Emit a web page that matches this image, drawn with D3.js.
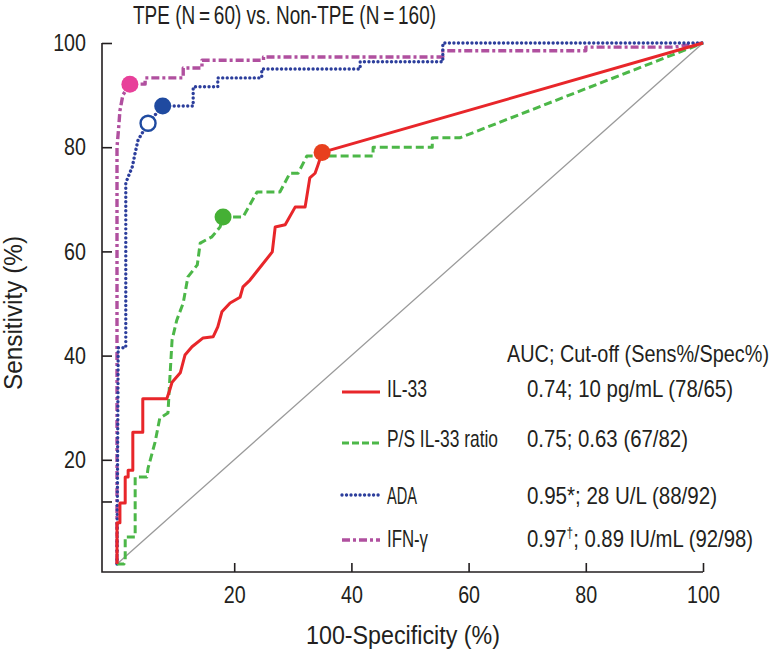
<!DOCTYPE html>
<html>
<head>
<meta charset="utf-8">
<script src="https://cdn.jsdelivr.net/npm/d3@7"></script>
<style>
body { margin: 0; background: #fff; }
text { font-family: "Liberation Sans", Arial, sans-serif; fill: #231f20; }
</style>
</head>
<body>
<svg width="771" height="655"></svg>
<script>
// ROC curves: [100-specificity %, sensitivity %]
var il33 = [[0,0],[0,7.9],[0.5,7.9],[0.5,11.7],[1.4,11.7],[1.4,16.7],[1.9,16.7],[1.9,18],[2.7,18],[2.7,25.3],
  [4.4,25.3],[4.4,31.7],[8.5,31.7],[9,33.4],[9.4,34.9],[10.8,36.7],[11.6,40.1],[12.8,41.7],[14.7,43.4],
  [16.4,43.6],[17.2,45.5],[17.9,48.4],[19.3,50.1],[21,51.2],[21.5,53.2],[22.7,54.5],[26.5,59.9],[27,64.7],
  [28.7,65.1],[30.4,68.5],[32.1,68.5],[32.9,74.1],[33.8,75],[34.3,76.6],[35,79],[100,100]];
var psRatio = [[0,0],[1.2,0],[1.4,0.5],[1.4,5.2],[3.1,5.2],[3.1,16.7],[5.1,16.7],[5.3,18.4],[6.5,23.4],
  [7.3,28],[8.7,29],[9,35.3],[9.4,43],[10.2,46.8],[11.3,50.1],[12.1,55.1],[13.7,57.4],[14.2,61.6],
  [16.2,62.8],[17.6,64.7],[18.1,66.6],[21.5,66.6],[23.9,71.4],[27.8,71.4],[29.5,75],[30.9,75],[32.4,78.3],
  [43.7,78.3],[43.7,80],[53.8,80],[53.8,81.8],[58.5,81.8],[100,100]];
var ada = [[0,0],[0.2,41.5],[1.5,41.5],[1.5,73.1],[1.9,74.3],[2.6,76.2],[3.1,78.9],[3.6,81.4],[4.3,82.7],
  [5.3,84.6],[7.8,87.9],[13,87.9],[13,91.6],[17.2,91.6],[17.2,93.3],[24.7,93.3],[24.7,95],[41.5,95],
  [41.5,96.4],[55.6,96.4],[55.6,100],[100,100]];
var ifng = [[0,0],[0,80],[0.3,84],[0.5,87],[1,90],[2.2,92.1],[4.8,92.1],[4.8,93.3],[11.3,93.3],[11.3,95.2],
  [14.5,95.2],[14.5,96.7],[25,96.7],[25,97.3],[55.6,97.3],[55.6,98.5],[80,98.5],[80,99.2],[95,99.2],[100,100]];

// cut-off points
var cutX = [35, 18.1, 7.8, 2.2];
var cutY = [79, 66.6, 87.9, 92.1];
var adaOpen = [5.3, 84.6];

var names = ["IL-33", "P/S IL-33 ratio", "ADA", "IFN-\u03b3"];
var aucText = ["0.74; 10 pg/mL (78/65)", "0.75; 0.63 (67/82)", "0.95*; 28 U/L (88/92)", "0.97"];
var xTicks = [20, 40, 60, 80, 100];
var yTicks = [12, 20, 40, 60, 80, 100];

var svg = d3.select("svg");

var x = d3.scaleLinear().domain([0, 100]).range([117, 703]);
var y = d3.scaleLinear().domain([0, 100]).range([564, 43]);

// the figure uses a condensed face; squeeze a regular one to the measured widths
function fit(sel, w) {
  sel.attr("textLength", w).attr("lengthAdjust", "spacingAndGlyphs");
}
function squeeze(sel, k) {
  sel.each(function() {
    var t = d3.select(this);
    fit(t, this.getComputedTextLength() * k);
  });
}

var styles = [
  {color: "#e8262a", width: 3, dash: null, cap: "butt", marker: "#e8401e"},
  {color: "#4cb748", width: 3, dash: "8,4", cap: "butt", marker: "#45b035"},
  {color: "#2c3e9c", width: 3.4, dash: "0.01,4.5", cap: "round", marker: "#1f4aa0"},
  {color: "#b0509f", width: 3.4, dash: "8,3,3,3", cap: "butt", marker: "#e8409a"}
];
var curves = [il33, psRatio, ada, ifng];

var line = d3.line().x(d => x(d[0])).y(d => y(d[1]));

// diagonal reference
svg.append("line")
  .attr("x1", x(0)).attr("y1", y(0))
  .attr("x2", x(100)).attr("y2", y(100))
  .attr("stroke", "#9a9a9a").attr("stroke-width", 1.3);

// axes
var yAxis = d3.axisLeft(y).tickValues(yTicks)
  .tickFormat(d => d == 12 ? "" : d)
  .tickSize(-10).tickPadding(16);
var gy = svg.append("g").attr("transform", "translate(102,0)").call(yAxis);
gy.select(".domain").remove();

var xAxis = d3.axisBottom(x).tickValues(xTicks).tickSize(-9).tickPadding(14);
var gx = svg.append("g").attr("transform", "translate(0,572)").call(xAxis);
gx.select(".domain").remove();

svg.append("path")
  .attr("d", "M102," + y(100) + "V572H" + x(100))
  .attr("fill", "none").attr("stroke", "#231f20").attr("stroke-width", 1.6);
svg.selectAll(".tick line").attr("stroke", "#231f20").attr("stroke-width", 1.6);
svg.selectAll(".tick text").style("font-size", "24px").attr("fill", "#231f20")
  .attr("font-family", null);
squeeze(svg.selectAll(".tick text").filter(function() { return this.textContent != ""; }), 0.82);

// curves, drawn back to front
[3, 2, 1, 0].forEach(function(i) {
  svg.append("path")
    .datum(curves[i])
    .attr("d", line)
    .attr("fill", "none")
    .attr("stroke", styles[i].color)
    .attr("stroke-width", styles[i].width)
    .attr("stroke-dasharray", styles[i].dash)
    .attr("stroke-linecap", styles[i].cap)
    .attr("stroke-linejoin", "round");
});

// markers
svg.append("circle")
  .attr("cx", x(adaOpen[0])).attr("cy", y(adaOpen[1])).attr("r", 7.5)
  .attr("fill", "#fff").attr("stroke", "#1f4aa0").attr("stroke-width", 2.4);
svg.selectAll(".cut")
  .data(cutX)
  .enter().append("circle")
  .attr("cx", d => x(d))
  .attr("cy", (d, i) => y(cutY[i]))
  .attr("r", 8.5)
  .attr("fill", (d, i) => styles[i].marker);

// title
svg.append("text").attr("x", 133).attr("y", 24)
  .style("font-size", "26px")
  .text("TPE (N\u2009=\u200960) vs. Non-TPE (N\u2009=\u2009160)")
  .call(fit, 303);

// axis titles
svg.append("text")
  .attr("transform", "translate(22,313) rotate(-90)")
  .attr("text-anchor", "middle")
  .style("font-size", "25px")
  .text("Sensitivity (%)")
  .call(fit, 154);
svg.append("text")
  .attr("x", 403).attr("y", 644)
  .attr("text-anchor", "middle")
  .style("font-size", "25px")
  .text("100-Specificity (%)")
  .call(fit, 194);

// legend
var rowY = [392, 443, 495, 540];
var textY = [397, 447, 504, 547];
var nameW = [40, 111, 30, 41];
var valW = [206, 161, 190, 226];

svg.append("text").attr("x", 507).attr("y", 362)
  .style("font-size", "24px")
  .text("AUC; Cut-off (Sens%/Spec%)")
  .call(fit, 262);

var leg = svg.selectAll(".leg")
  .data(names)
  .enter().append("g");
leg.append("line")
  .attr("x1", 342).attr("x2", 380)
  .attr("y1", (d, i) => rowY[i]).attr("y2", (d, i) => rowY[i])
  .attr("stroke", (d, i) => styles[i].color)
  .attr("stroke-width", (d, i) => styles[i].width)
  .attr("stroke-dasharray", (d, i) => i == 1 ? "7,3" : styles[i].dash)
  .attr("stroke-linecap", (d, i) => styles[i].cap);
leg.append("text")
  .attr("x", 387).attr("y", (d, i) => textY[i])
  .style("font-size", "24px")
  .text(d => d)
  .attr("textLength", (d, i) => nameW[i])
  .attr("lengthAdjust", "spacingAndGlyphs");
var vals = leg.append("text")
  .attr("x", 527).attr("y", (d, i) => textY[i])
  .style("font-size", "24px")
  .text((d, i) => aucText[i])
  .attr("textLength", (d, i) => valW[i])
  .attr("lengthAdjust", "spacingAndGlyphs");
vals.filter((d, i) => i == 3).each(function() {
  var t = d3.select(this);
  t.append("tspan").attr("dy", -9).style("font-size", "14px").text("\u2020");
  t.append("tspan").attr("dy", 9).text("; 0.89 IU/mL (92/98)");
});
</script>
</body>
</html>
